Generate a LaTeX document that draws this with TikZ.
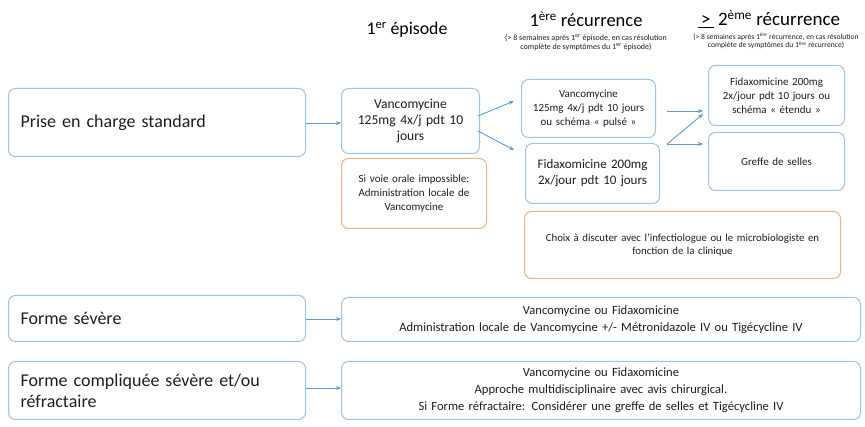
\documentclass[tikz,border=0pt]{standalone}
\usepackage{fontspec}
\setmainfont{Carlito}
\usetikzlibrary{arrows.meta}
\definecolor{bbord}{RGB}{157,195,230}
\definecolor{obord}{RGB}{244,177,131}
\definecolor{arr}{RGB}{91,155,213}
\definecolor{txt}{RGB}{30,30,30}
\tikzset{
  box/.style={draw=bbord, line width=1pt, rounded corners=7pt, anchor=north west, inner sep=2pt, text=txt},
  obox/.style={box, draw=obord},
  lbox/.style={box, inner xsep=0pt, minimum width=297, text width=273, align=left},
  conn/.style={draw=arr, line width=0.9pt, -{Stealth[length=5pt,width=4pt]}},
}
\begin{document}
\begin{tikzpicture}[x=1pt,y=-1pt]
\useasboundingbox (0,0) rectangle (865,427);
% headers
\node[text=black, font=\fontsize{17.8}{20}\selectfont] (h1) at (407,30) {1\textsuperscript{er} épisode};
\node[text=black, font=\fontsize{18.5}{22}\selectfont] (h2) at (586,19) {1\textsuperscript{ère} récurrence};
\node[text=txt, font=\fontsize{8}{9}\selectfont, align=center] (h2s) at (586,43) {(> 8 semaines après 1\textsuperscript{er} épisode, en cas résolution\\complète de symptômes du 1\textsuperscript{er} épisode)};
\node[text=black, font=\fontsize{19}{22}\selectfont] (h3) at (769,19) {\underline{\,>\,} 2\textsuperscript{ème} récurrence};
\node[text=txt, font=\fontsize{7.6}{8.5}\selectfont, align=center] (h3s) at (776,41) {(> 8 semaines après 1\textsuperscript{ère} récurrence, en cas résolution\\complète de symptômes du 1\textsuperscript{ère} récurrence)};
% left boxes
\node[lbox, minimum height=68, font=\fontsize{18}{22}\selectfont] (pcs) at (8,88) {Prise en charge standard};
\node[lbox, minimum height=46, font=\fontsize{18}{22}\selectfont] (fs) at (8,295) {Forme sévère};
\node[lbox, minimum height=58, font=\fontsize{18}{21}\selectfont] (fc) at (8,361) {Forme compliquée sévère et/ou\\réfractaire};
% first episode
\node[box, minimum width=138, minimum height=65, text width=130, align=center, font=\fontsize{13.6}{16}\selectfont] (v1) at (341,88) {Vancomycine\\125mg 4x/j pdt 10\\jours};
\node[obox, minimum width=145, minimum height=70, text width=135, align=center, font=\fontsize{11}{14}\selectfont] (o1) at (341,158) {Si voie orale impossible:\\Administration locale de\\Vancomycine};
% first recurrence
\node[box, minimum width=134, minimum height=58, text width=130, align=center, font=\fontsize{11}{14}\selectfont] (v2) at (521,79) {Vancomycine\\125mg 4x/j pdt 10 jours\\ou schéma «~pulsé~»};
\node[box, minimum width=134, minimum height=60, text width=130, align=center, font=\fontsize{13}{16}\selectfont] (f2) at (525,143) {Fidaxomicine 200mg\\2x/jour pdt 10 jours};
\node[obox, minimum width=316, minimum height=67, text width=300, align=center, font=\fontsize{10.8}{13}\selectfont] (o2) at (524,211) {Choix à discuter avec l’infectiologue ou le microbiologiste en\\fonction de la clinique};
% second recurrence
\node[box, minimum width=136, minimum height=60, text width=130, align=center, font=\fontsize{11}{14}\selectfont] (f3) at (708,65) {Fidaxomicine 200mg\\2x/jour pdt 10 jours ou\\schéma «~étendu~»};
\node[box, minimum width=136, minimum height=58, text width=130, align=center, font=\fontsize{11}{14}\selectfont] (g3) at (708,132) {Greffe de selles};
% bottom right boxes
\node[box, minimum width=519, minimum height=44, text width=505, align=center, font=\fontsize{12.6}{17}\selectfont] (rs) at (341,297) {Vancomycine ou Fidaxomicine\\Administration locale de Vancomycine +/- Métronidazole IV ou Tigécycline IV};
\node[box, minimum width=519, minimum height=58, text width=505, align=center, font=\fontsize{12.6}{17}\selectfont] (rc) at (341,361) {Vancomycine ou Fidaxomicine\\Approche multidisciplinaire avec avis chirurgical.\\Si Forme réfractaire: Considérer une greffe de selles et Tigécycline IV};
% connectors
\path[conn] (pcs.east |- 0,123) -- (v1.west |- 0,123);
\coordinate (a1) at (478,116);
\coordinate (a2) at (478,131);
\coordinate (t1) at (514,101);
\coordinate (t2) at (514,150);
\path[conn] (a1) -- (t1);
\path[conn] (a2) -- (t2);
\coordinate (b1) at (667,111);
\coordinate (b2) at (667,144);
\coordinate (e1) at (703,111);
\coordinate (e2) at (703,114);
\coordinate (e3) at (703,144);
\path[conn] (b1) -- (e1);
\path[conn] (b2) -- (e2);
\path[conn] (b2) -- (e3);
\path[conn] (fs.east |- 0,319) -- (rs.west |- 0,319);
\path[conn] (fc.east |- 0,388) -- (rc.west |- 0,388);
\end{tikzpicture}
\end{document}
